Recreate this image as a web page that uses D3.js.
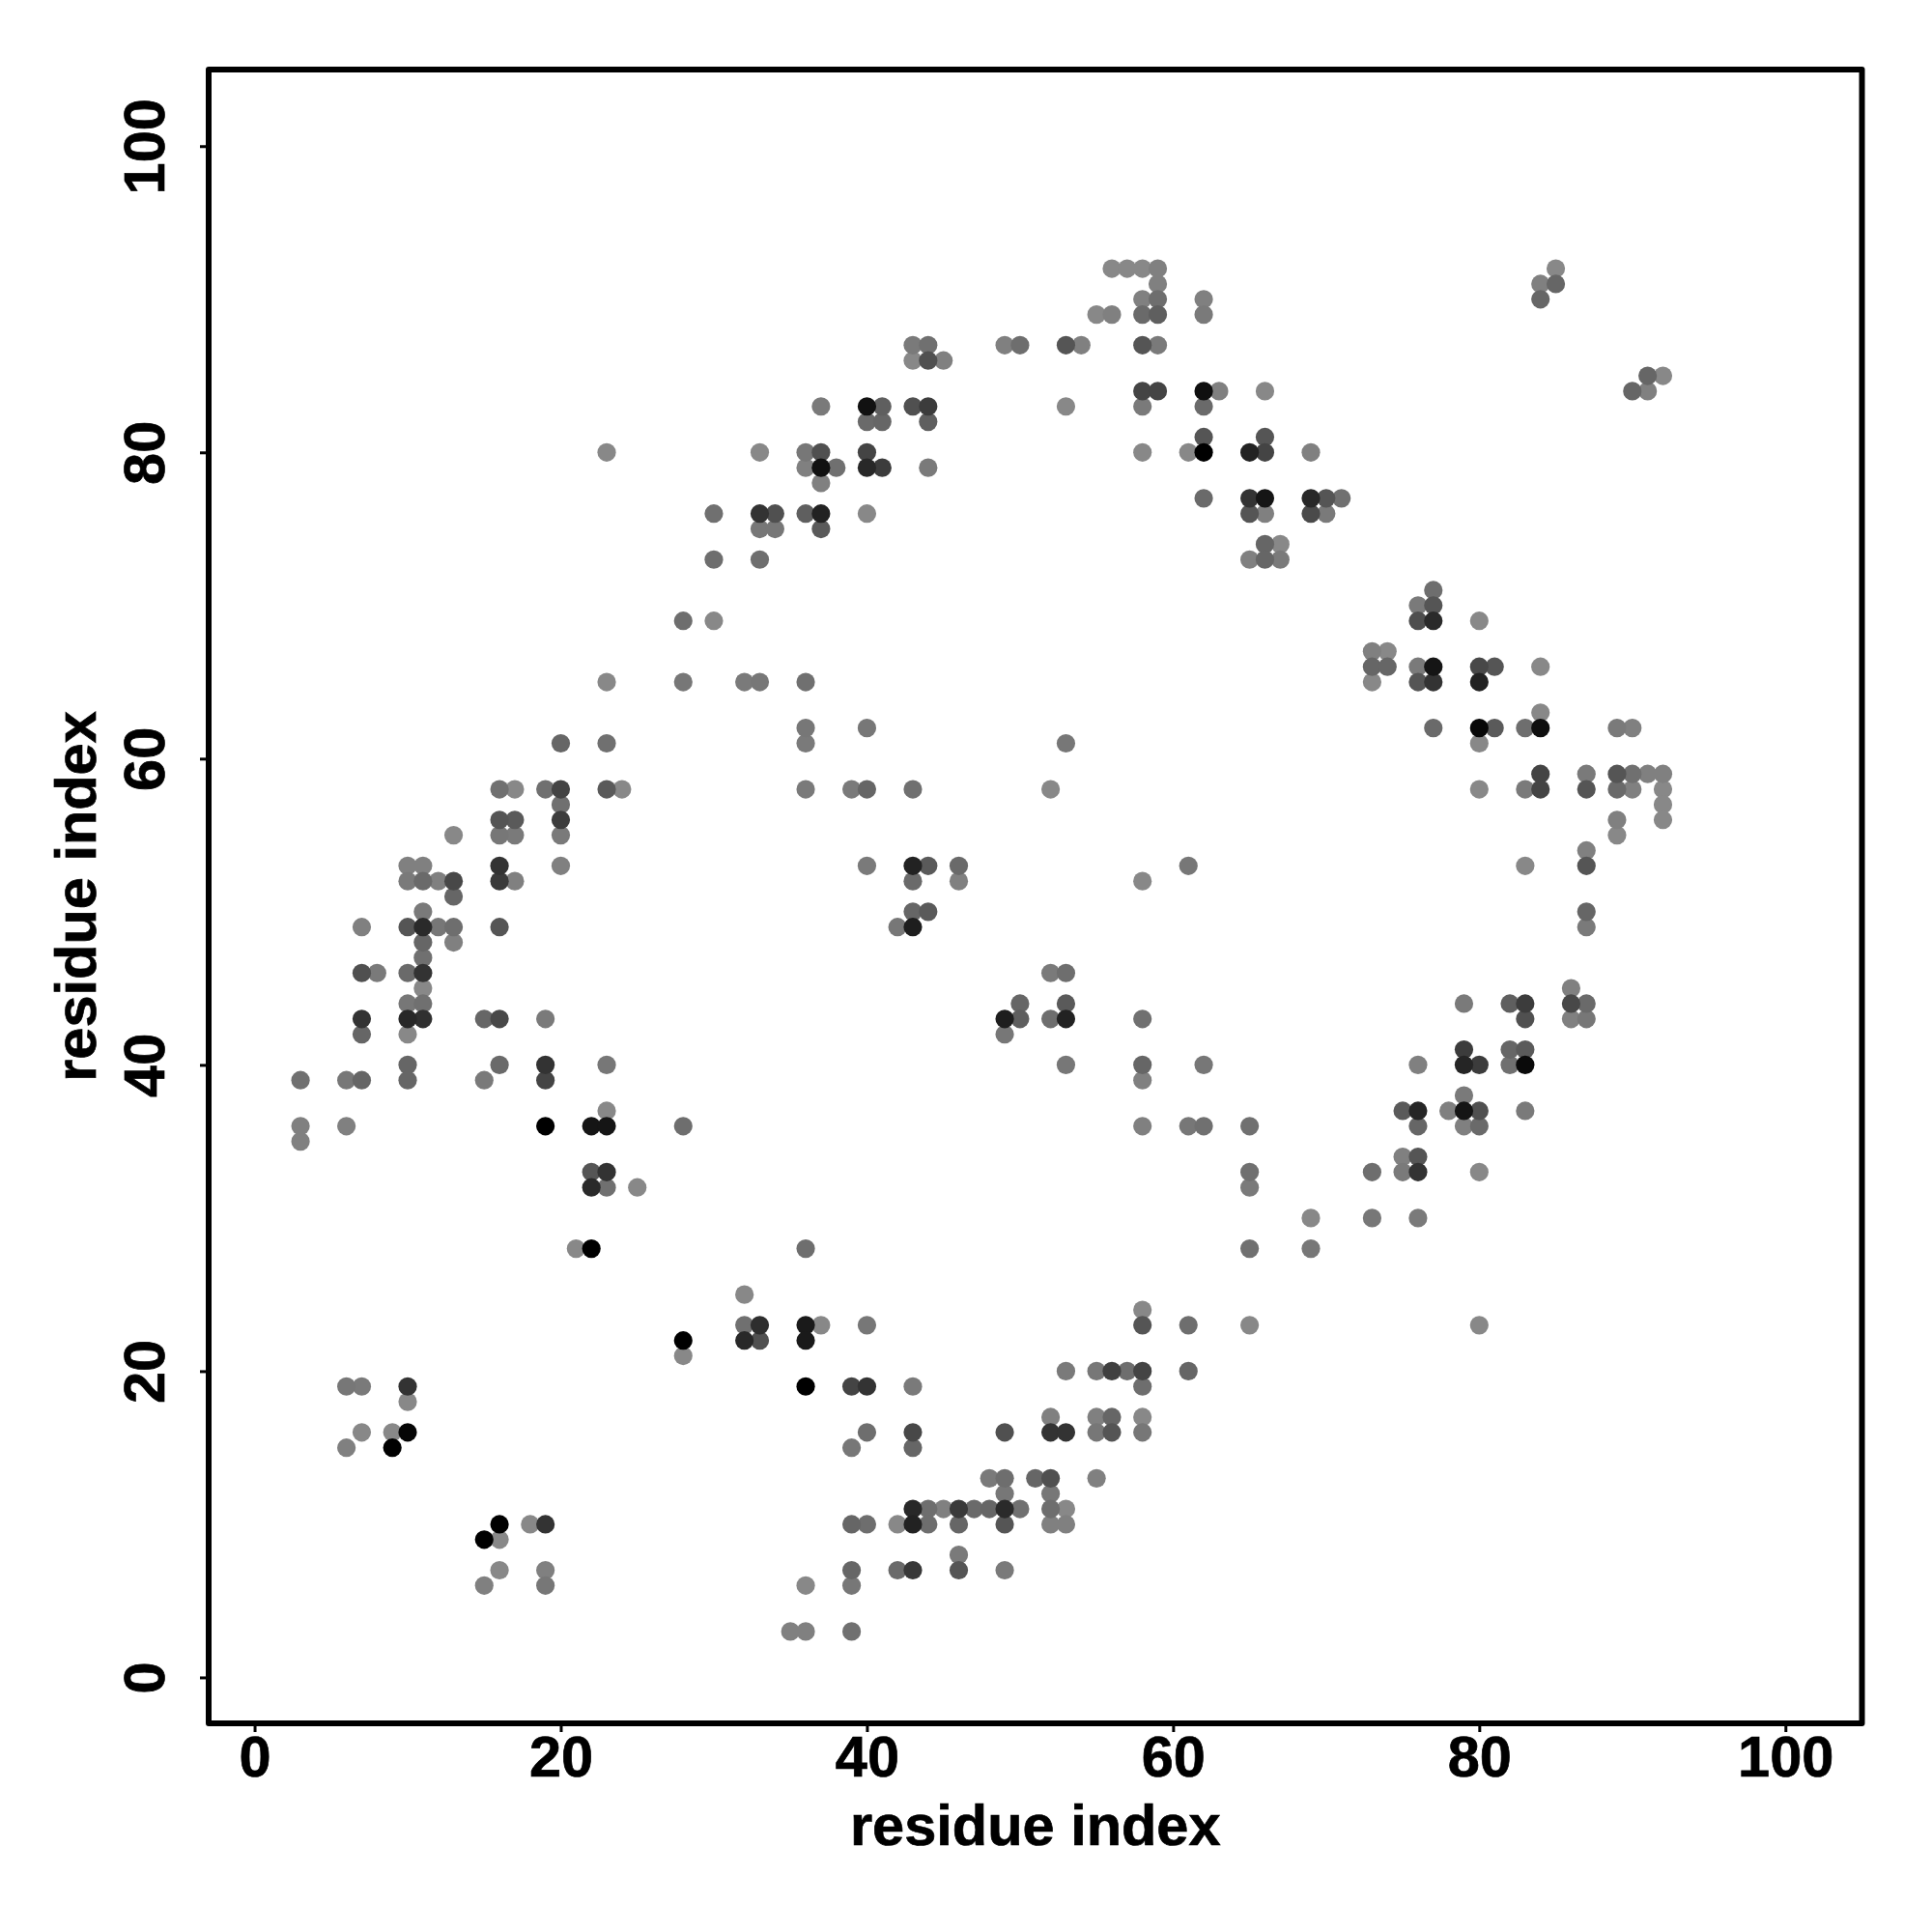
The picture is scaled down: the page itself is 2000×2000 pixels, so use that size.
<!DOCTYPE html>
<html>
<head>
<meta charset="utf-8">
<script src="https://cdn.jsdelivr.net/npm/d3@7"></script>
<style>
html,body{margin:0;padding:0;background:#fff;}
svg{display:block;}
text{font-family:"Liberation Sans",Arial,sans-serif;font-weight:bold;fill:#000;stroke:#000;stroke-width:0.7px;}
</style>
</head>
<body>
<svg id="chart" width="2000" height="2000"></svg>
<script>
const xLabel = "residue index";
const yLabel = "residue index";
const tickValues = [0, 20, 40, 60, 80, 100];
const axisDomain = [-3, 105];

const rowY = [92,91,90,89,87,86,85,84,83,82,81,80,79,78,77,76,75,74,73,71,70,69,67,66,65,63,62,61,59,58,57,56,55,54,53,52,51,50,49,48,47,46,45,44,43,42,41,40,39,38,37,36,35,34,33,32,30,28,25,24,23,22,21,20,19,18,17,16,15,13,12,11,10,9,8,7,6,3];

const rowX = [
[56,57,58,59,85],
[59,84,85],
[58,59,62,84],
[55,56,58,59,62],
[43,44,49,50,53,54,58,59],
[43,44,45],
[91,92],
[58,59,62,63,66,90,91],
[37,40,41,43,44,53,58,62],
[40,41,44],
[62,66],
[23,33,36,37,40,58,61,62,65,66,69],
[36,37,38,40,41,44],
[37],
[62,65,66,69,70,71],
[30,33,34,36,37,40,65,66,69,70],
[33,34,37],
[66,67],
[30,33,65,66,67],
[77],
[76,77],
[28,30,76,77,80],
[73,74],
[73,74,76,77,80,81,84],
[23,28,32,33,36,73,76,77,80],
[84],
[36,40,77,80,81,83,84,89,90],
[20,23,36,53,80],
[84,87,89,90,91,92],
[16,17,19,20,23,24,36,39,40,43,52,80,83,84,87,89,90,92],
[20,92],
[16,17,20,89,92],
[13,16,17,20,89],
[87],
[10,11,16,20,40,43,44,46,61,83,87],
[10,11,12,13,16,17,43,46,58],
[13],
[11,43,44,87],
[7,10,11,12,13,16,42,43,87],
[11,13],
[11],
[7,8,10,11,52,53],
[11,86],
[10,11,50,53,79,82,83,86,87],
[7,10,11,15,16,19,49,50,52,53,58,83,86,87],
[7,10,49],
[79,82,83],
[10,16,19,23,53,58,62,76,79,80,82,83],
[3,6,7,10,15,19,58],
[79],
[23,75,76,78,79,80,83],
[3,6,19,22,23,28,58,61,62,65,76,79,80],
[3],
[75,76],
[22,23,65,73,75,76,80],
[22,23,25,65],
[69,73,76],
[21,22,36,65,69],
[32],
[58],
[32,33,36,37,40,58,61,65,80],
[28,32,33,36],
[28],
[53,55,56,57,58,61],
[6,7,10,36,39,40,43,58],
[10],
[52,55,56,58],
[7,9,10,40,43,49,52,53,55,56,58],
[6,9,39,43],
[48,49,51,52,55],
[49,52],
[43,44,45,46,47,48,49,50,52,53],
[16,18,19,39,40,42,43,44,46,49,52,53],
[15,16],
[46],
[16,19,39,42,43,46,49],
[15,19,36,39],
[35,36,39]
];

const rowGray = [
[0x88,0x88,0x88,0x80,0x88],
[0x80,0x80,0x66],
[0x80,0x6e,0x80,0x66],
[0x88,0x80,0x6a,0x5f,0x7a],
[0x7a,0x70,0x80,0x6e,0x55,0x80,0x55,0x7a],
[0x88,0x50,0x80],
[0x66,0x88],
[0x44,0x44,0x0f,0x80,0x88,0x66,0x80],
[0x7a,0x11,0x5f,0x50,0x3c,0x88,0x7a,0x6a],
[0x6a,0x66,0x5f],
[0x55,0x55],
[0x88,0x88,0x77,0x50,0x44,0x88,0x88,0x00,0x22,0x44,0x80],
[0x80,0x11,0x70,0x28,0x3c,0x7a],
[0x80],
[0x6a,0x33,0x15,0x28,0x55,0x70],
[0x70,0x33,0x50,0x5f,0x22,0x88,0x55,0x80,0x4a,0x7a],
[0x77,0x77,0x5a],
[0x66,0x88],
[0x6e,0x6e,0x80,0x66,0x7a],
[0x6e],
[0x7a,0x55],
[0x6e,0x88,0x4e,0x2a,0x88],
[0x80,0x88],
[0x66,0x66,0x7a,0x15,0x48,0x55,0x88],
[0x88,0x77,0x7a,0x77,0x70,0x88,0x55,0x33,0x22],
[0x88],
[0x77,0x77,0x6a,0x08,0x5a,0x6e,0x0f,0x7a,0x80],
[0x66,0x70,0x7a,0x77,0x88],
[0x44,0x7a,0x55,0x70,0x80,0x80],
[0x70,0x88,0x70,0x44,0x5a,0x88,0x7a,0x7a,0x66,0x70,0x88,0x88,0x7a,0x44,0x55,0x6a,0x80,0x88],
[0x70,0x88],
[0x55,0x5a,0x3c,0x80,0x88],
[0x88,0x77,0x7a,0x7a,0x88],
[0x80],
[0x80,0x80,0x33,0x80,0x7a,0x22,0x5a,0x6a,0x77,0x88,0x55],
[0x7a,0x6a,0x80,0x48,0x3a,0x80,0x6a,0x80,0x88],
[0x66],
[0x7a,0x66,0x5a,0x66],
[0x80,0x55,0x2a,0x77,0x6e,0x55,0x77,0x1e,0x7a],
[0x66,0x80],
[0x70],
[0x50,0x7a,0x6a,0x33,0x7a,0x6e],
[0x88,0x80],
[0x77,0x70,0x66,0x5a,0x7a,0x5f,0x3c,0x48,0x6a],
[0x33,0x28,0x30,0x66,0x48,0x7a,0x1e,0x5f,0x6e,0x22,0x70,0x50,0x80,0x77],
[0x66,0x88,0x77],
[0x3c,0x66,0x5a],
[0x66,0x6a,0x33,0x77,0x77,0x66,0x77,0x80,0x25,0x3c,0x70,0x0a],
[0x70,0x77,0x66,0x66,0x7a,0x44,0x80],
[0x7a],
[0x88,0x5a,0x26,0x80,0x15,0x50,0x7a],
[0x80,0x80,0x00,0x15,0x15,0x6e,0x80,0x77,0x70,0x70,0x66,0x80,0x6a],
[0x80],
[0x80,0x55],
[0x55,0x33,0x70,0x6e,0x7a,0x33,0x88],
[0x2a,0x70,0x88,0x7a],
[0x88,0x77,0x7a],
[0x88,0x00,0x6e,0x70,0x77],
[0x88],
[0x88],
[0x70,0x2e,0x1a,0x88,0x77,0x55,0x6e,0x88,0x88],
[0x00,0x28,0x50,0x1a],
[0x88],
[0x7a,0x77,0x40,0x6e,0x44,0x66],
[0x77,0x7a,0x33,0x00,0x44,0x33,0x7a,0x6e],
[0x88],
[0x80,0x80,0x66,0x88],
[0x88,0x88,0x05,0x6e,0x48,0x50,0x33,0x33,0x77,0x55,0x77],
[0x80,0x00,0x77,0x66],
[0x7a,0x6e,0x66,0x50,0x80],
[0x77,0x77],
[0x28,0x6e,0x80,0x3a,0x6a,0x66,0x2a,0x70,0x6e,0x88],
[0x00,0x88,0x33,0x66,0x6e,0x88,0x22,0x6e,0x66,0x55,0x80,0x80],
[0x00,0x88],
[0x7a],
[0x88,0x80,0x66,0x6a,0x38,0x55,0x7a],
[0x80,0x77,0x88,0x77],
[0x80,0x80,0x70]
];

const plot = {left:216, right:1927.5, top:72, bottom:1784};
const svg = d3.select("#chart");

const x = d3.scaleLinear().domain(axisDomain).range([plot.left, plot.right]);
const y = d3.scaleLinear().domain(axisDomain).range([plot.bottom, plot.top]);

// Flatten rows, darkest marks drawn last so they sit on top.
const points = d3.merge(rowY.map((yv, i) => rowX[i].map((xv, j) => ({x:xv, y:yv, gray:rowGray[i][j]}))));
points.sort((a, b) => d3.descending(a.gray, b.gray));

svg.append("g").selectAll("circle").data(points).join("circle")
  .attr("cx", d => x(d.x))
  .attr("cy", d => y(d.y))
  .attr("r", 9.6)
  .attr("fill", d => d3.rgb(d.gray, d.gray, d.gray));

const gx = svg.append("g").attr("transform", `translate(0,${plot.bottom})`)
  .call(d3.axisBottom(x).tickValues(tickValues).tickSize(9).tickFormat(d3.format("d")));
const gy = svg.append("g").attr("transform", `translate(${plot.left},0)`)
  .call(d3.axisLeft(y).tickValues(tickValues).tickSize(9).tickFormat(d3.format("d")));

[gx, gy].forEach(g => {
  g.select(".domain").remove();
  g.selectAll("line").attr("stroke", "#000").attr("stroke-width", 3);
  g.selectAll("text").attr("font-size", 59.5).attr("font-family", null).attr("fill", "#000");
});
gx.attr("font-family", null).attr("font-size", null);
gy.attr("font-family", null).attr("font-size", null);
gx.selectAll("text").attr("dy", null).attr("y", 55).attr("text-anchor", "middle");
gy.selectAll("text").attr("dy", null).attr("x", null).attr("y", null)
  .attr("text-anchor", "middle").attr("transform", "translate(-46,0) rotate(-90)");

svg.append("rect")
  .attr("x", plot.left).attr("y", plot.top)
  .attr("width", plot.right - plot.left).attr("height", plot.bottom - plot.top)
  .attr("fill", "none").attr("stroke", "#000").attr("stroke-width", 6).attr("stroke-linejoin", "round");

svg.append("text").attr("x", (plot.left + plot.right) / 2).attr("y", 1910)
  .attr("text-anchor", "middle").attr("font-size", 59.5).text(xLabel);
svg.append("text").attr("transform", `translate(99,${(plot.top + plot.bottom) / 2}) rotate(-90)`)
  .attr("text-anchor", "middle").attr("font-size", 59.5).text(yLabel);
</script>
</body>
</html>
